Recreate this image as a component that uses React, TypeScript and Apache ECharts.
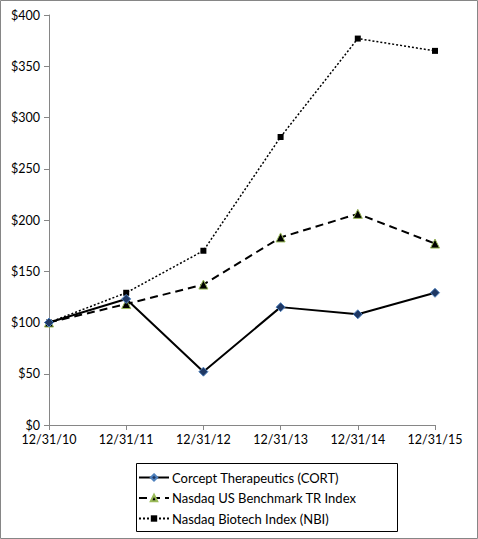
import React, { useEffect, useRef } from "react";
import * as echarts from "echarts";

const categories = ["12/31/10", "12/31/11", "12/31/12", "12/31/13", "12/31/14", "12/31/15"];
const seriesNames = [
  "Corcept Therapeutics (CORT)",
  "Nasdaq US Benchmark TR Index",
  "Nasdaq Biotech Index (NBI)",
];
const cortValues = [100, 123, 52, 115, 108, 129];
const benchmarkValues = [100, 118, 137, 183, 206, 177];
const nbiValues = [100, 129, 170, 281, 377, 365];

const FONT = "Lato, 'Open Sans', sans-serif";

export default function App() {
  const ref = useRef<HTMLDivElement>(null);
  useEffect(() => {
    document.body.style.margin = "0";
    const chart = echarts.init(ref.current!, null, { renderer: "svg" });
    chart.setOption({
      animation: false,
      backgroundColor: "#fff",
      textStyle: { fontFamily: FONT },
      grid: { left: 49, right: 43, top: 15, bottom: 114 },
      xAxis: {
        type: "category",
        data: categories,
        boundaryGap: false,
        axisLine: { lineStyle: { color: "#868686", width: 1 } },
        axisTick: { show: true, length: 5, lineStyle: { color: "#868686" } },
        axisLabel: { color: "#000", fontSize: 12.5, margin: 8, fontFamily: FONT },
        splitLine: { show: false },
      },
      yAxis: {
        type: "value",
        min: 0,
        max: 400,
        interval: 50,
        axisLine: { show: true, lineStyle: { color: "#868686", width: 1 } },
        axisTick: { show: true, length: 5, lineStyle: { color: "#868686" } },
        axisLabel: { color: "#000", fontSize: 12.5, margin: 9, fontFamily: FONT, formatter: (v: number) => "$" + v },
        splitLine: { show: false },
      },
      legend: {
        orient: "vertical",
        left: 138,
        top: 471,
        padding: 0,
        itemWidth: 30,
        itemHeight: 8,
        itemGap: 7.5,
        textStyle: { color: "#000", fontSize: 13, fontFamily: FONT, padding: [0, 0, 0, -2] },
        data: seriesNames,
      },
      graphic: [
        {
          type: "rect",
          shape: { x: 0.5, y: 0.5, width: 477, height: 538 },
          style: { fill: "none", stroke: "#868686", lineWidth: 1 },
          silent: true,
        },
        {
          type: "rect",
          shape: { x: 136.5, y: 463.5, width: 261, height: 68 },
          style: { fill: "none", stroke: "#000", lineWidth: 1 },
          silent: true,
        },
      ],
      series: [
        {
          name: seriesNames[0],
          type: "line",
          data: cortValues,
          symbol: "diamond",
          symbolSize: 9,
          itemStyle: { color: "#1F3864", borderColor: "#4F81BD", borderWidth: 1 },
          lineStyle: { color: "#000", width: 2, type: "solid" },
          z: 4,
        },
        {
          name: seriesNames[1],
          type: "line",
          data: benchmarkValues,
          symbol: "triangle",
          symbolSize: 9,
          itemStyle: { color: "#000", borderColor: "#9BBB59", borderWidth: 1 },
          lineStyle: { color: "#000", width: 2, type: [8, 5] },
          z: 3,
        },
        {
          name: seriesNames[2],
          type: "line",
          data: nbiValues,
          symbol: "rect",
          symbolSize: 6,
          itemStyle: { color: "#000" },
          lineStyle: { color: "#000", width: 1.5, type: [2, 2] },
          z: 2,
        },
      ],
    });
    return () => chart.dispose();
  }, []);
  return <div ref={ref} style={{ width: 478, height: 539 }} />;
}
